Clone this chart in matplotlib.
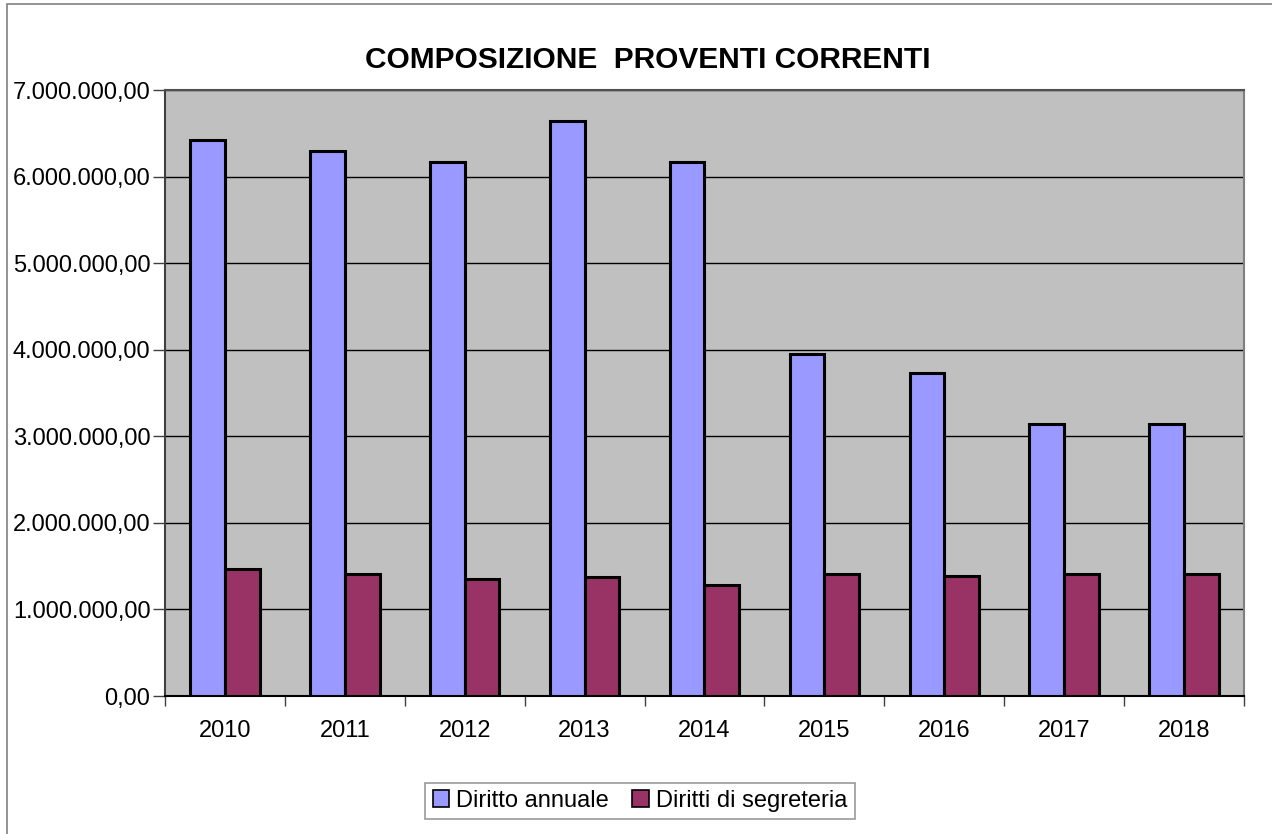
import numpy as np
import matplotlib.pyplot as plt
import matplotlib.ticker as mtick
from matplotlib.patches import Rectangle

plt.rcParams['font.family'] = ['Liberation Sans', 'DejaVu Sans']

anni = ['2010', '2011', '2012', '2013', '2014', '2015', '2016', '2017', '2018']
diritto_annuale = [6417000, 6293000, 6163000, 6640000, 6163000,
                   3949000, 3730000, 3137000, 3137000]
diritti_segreteria = [1463000, 1409000, 1347000, 1370000, 1282000,
                      1409000, 1386000, 1409000, 1409000]


def formato_it(v, pos):
    s = '{:,.2f}'.format(v)
    return s.replace(',', 'X').replace('.', ',').replace('X', '.')


fig = plt.figure(figsize=(12.72, 8.34), dpi=100)
ax = fig.add_axes([165 / 1272, 1 - 696 / 834, (1244 - 165) / 1272, (696 - 90) / 834])

# cornice esterna del grafico
fig.patches.append(Rectangle((7 / 1272, -0.1), 1.2, 0.1 + 1 - 4 / 834,
                             transform=fig.transFigure, fill=False,
                             edgecolor='#808080', linewidth=1.2))

x = np.arange(len(anni))
w = 0.29
ax.bar(x - w / 2, diritto_annuale, w, color='#9999ff', edgecolor='black',
       linewidth=2.2, label='Diritto annuale', zorder=3)
ax.bar(x + w / 2, diritti_segreteria, w, color='#993366', edgecolor='black',
       linewidth=2.2, label='Diritti di segreteria', zorder=3)

ax.set_facecolor('#c0c0c0')
ax.set_xlim(-0.5, len(anni) - 0.5)
ax.set_ylim(0, 7000000)
ax.yaxis.set_major_locator(mtick.MultipleLocator(1000000))
ax.yaxis.set_major_formatter(mtick.FuncFormatter(formato_it))
ax.grid(axis='y', color='black', linewidth=1.0, zorder=1)
ax.set_axisbelow(True)

# tacche x tra le categorie, etichette al centro
ax.set_xticks(np.arange(-0.5, len(anni), 1.0))
ax.set_xticklabels([])
ax.set_xticks(x, minor=True)
ax.set_xticklabels(anni, minor=True)
ax.tick_params(axis='x', which='major', length=7.5, width=1, color='#404040')
ax.tick_params(axis='x', which='minor', length=0, pad=17, labelsize=17)
ax.tick_params(axis='y', length=8.5, width=1, color='#404040', labelsize=17, pad=2)

ax.spines['left'].set_color('#404040')
ax.spines['bottom'].set_color('black')
ax.spines['top'].set_color('#505050')
ax.spines['right'].set_color('#808080')
for s in ax.spines.values():
    s.set_linewidth(1.5)

fig.text(648 / 1272, 1 - 60 / 834, 'COMPOSIZIONE  PROVENTI CORRENTI',
         ha='center', va='center', fontsize=21.5, fontweight='bold')

leg = fig.legend(loc='center', bbox_to_anchor=(640 / 1272, 1 - 801 / 834),
                 ncol=2, fontsize=17, frameon=True, fancybox=False,
                 handlelength=0.7, handleheight=0.7, handletextpad=0.3,
                 columnspacing=1.0, borderpad=0.3)
leg.get_frame().set_edgecolor('#808080')
leg.get_frame().set_linewidth(1.2)
for h in leg.legend_handles:
    h.set_linewidth(1.2)

fig.savefig('out.png', dpi=100)
